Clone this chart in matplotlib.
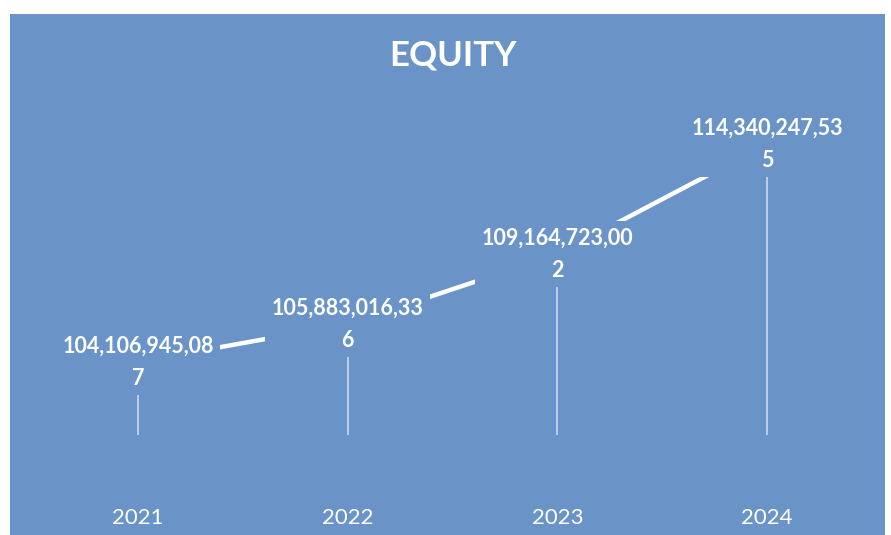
import matplotlib
matplotlib.use("Agg")
import matplotlib.pyplot as plt
import matplotlib.transforms as mtrans
from matplotlib.patches import Rectangle

years = ["2021", "2022", "2023", "2024"]
equity = [104106945.087, 105883016.336, 109164723.002, 114340247.535]

bg = "#6a94c8"
W, H = 891, 535

# Labels look like "104,106,945,08" with the last digit wrapped to a second line
labels = []
for v in equity:
    s = f"{v:,.3f}".replace(".", ",")
    labels.append(s[:-1] + "\n" + s[-1])

plt.rcParams["font.family"] = ["Lato", "DejaVu Sans"]

fig = plt.figure(figsize=(W / 100, H / 100), dpi=100, facecolor="white")

# scanned page: blue panel with a white margin on top/left/right
fig.patches.append(Rectangle((10 / W, 0), 875 / W, 1 - 14 / H,
                             transform=fig.transFigure, facecolor=bg,
                             edgecolor="none", zorder=-1))

# axes placed so the categories land where they do in the scan
ax = fig.add_axes([33 / W, 1 - 435 / H, 839 / W, 335 / H])
ax.set_facecolor("none")
x = list(range(len(years)))
ax.set_xlim(-0.5, 3.5)
ymin, ymax = 100.68e6, 116.41e6
ax.set_ylim(ymin, ymax)
for s in ax.spines.values():
    s.set_visible(False)
ax.set_xticks([])
ax.set_yticks([])

# drop lines
ax.vlines(x, ymin, equity, colors="#dfeafa", linewidth=1.4, alpha=0.7, zorder=1)
ax.plot(x, equity, color="white", linewidth=3.2, solid_capstyle="round", zorder=2)

for xi, v, lab in zip(x, equity, labels):
    ax.text(xi, v, lab, ha="center", va="center", color="white",
            fontsize=15.5, fontweight="bold", linespacing=1.65, zorder=3,
            bbox=dict(boxstyle="square,pad=0.3", facecolor=bg, edgecolor="none"))

# year labels along the bottom
tr = mtrans.blended_transform_factory(ax.transData, fig.transFigure)
for xi, yr in zip(x, years):
    ax.text(xi, 1 - 518 / H, yr, transform=tr, ha="center", va="center",
            color="white", fontsize=16)

fig.text(453 / W, 1 - 55 / H, "EQUITY", ha="center", va="center",
         color="white", fontsize=25, fontweight="bold")

fig.savefig("out.png", dpi=100, facecolor="white")
